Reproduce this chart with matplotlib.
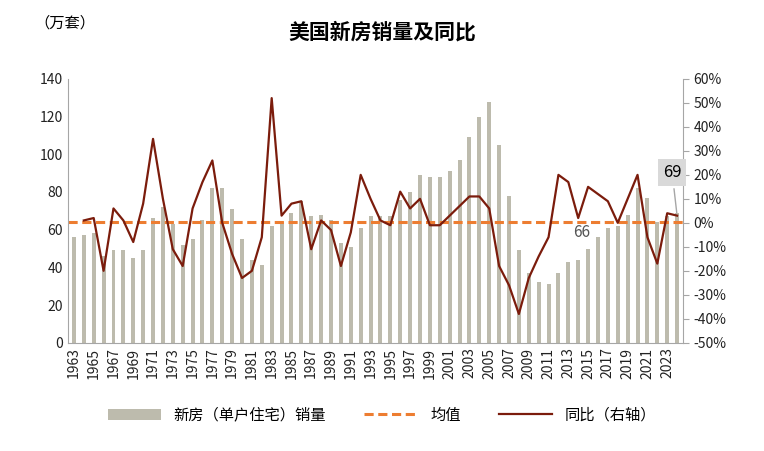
import numpy as np
import matplotlib.pyplot as plt

plt.rcParams['font.family'] = ['Noto Sans CJK SC']

years = list(range(1963, 2025))
sales = [56, 57, 58, 46, 49, 49, 45, 49, 66, 72, 63, 52, 55, 65, 82, 82, 71, 55,
         44, 41, 62, 64, 69, 75, 67, 68, 65, 53, 51, 61, 67, 67, 67, 76, 80, 89,
         88, 88, 91, 97, 109, 120, 128, 105, 78, 49, 37, 32, 31, 37, 43, 44, 50,
         56, 61, 62, 68, 82, 77, 64, 67, 69]
yoy_years = list(range(1964, 2025))
yoy = [1, 2, -20, 6, 1, -8, 8, 35, 10, -11, -18, 6, 17, 26, 0, -13, -23, -20, -6,
       52, 3, 8, 9, -11, 1, -3, -18, -4, 20, 10, 1, -1, 13, 6, 10, -1, -1, 3, 7,
       11, 11, 6, -18, -26, -38, -23, -14, -6, 20, 17, 2, 15, 12, 9, 0, 10, 20,
       -6, -17, 4, 3]
mean_val = 64

fig = plt.figure(figsize=(7.64, 4.51), dpi=100)
ax = fig.add_axes([0.089, 0.24, 0.805, 0.585])
ax2 = ax.twinx()

bars = ax.bar(years, sales, width=0.4, color='#bdbbad')
mline = ax.axhline(mean_val, color='#ed7d31', ls='--', lw=2.2, dashes=(3, 1.5))
yline, = ax2.plot(yoy_years, yoy, color='#7b1c0c', lw=1.6)

ax.set_ylim(0, 140)
ax.set_yticks(range(0, 141, 20))
ax2.set_ylim(-50, 60)
ax2.set_yticks(range(-50, 61, 10))
ax2.set_yticklabels([f'{v}%' for v in range(-50, 61, 10)])
ax.set_xlim(1962.4, 2024.6)
ax.set_xticks(range(1963, 2025, 2))
ax.set_xticklabels([str(y) for y in range(1963, 2025, 2)], rotation=90)
for a in (ax, ax2):
    a.tick_params(labelsize=10, colors='#222222', length=0)
    for s in a.spines.values():
        s.set_visible(False)
ax.spines['bottom'].set_visible(True)
ax.spines['left'].set_visible(True)
ax2.spines['right'].set_visible(True)
for s in (ax.spines['bottom'], ax.spines['left'], ax2.spines['right']):
    s.set_color('#a6a6a6')
ax2.tick_params(axis='y', length=4, color='#a6a6a6', direction='out')

ax.text(2014.3, 56, '66', fontsize=11, color='#555555', ha='center')
ax2.annotate('69', xy=(2024, 3), xytext=(2023.5, 21), fontsize=12,
             ha='center', va='center',
             bbox=dict(boxstyle='square,pad=0.3', fc='#d9d9d9', ec='none'),
             arrowprops=dict(arrowstyle='-', color='#a6a6a6', lw=1))

fig.text(0.5, 0.915, '美国新房销量及同比', fontsize=15, fontweight='bold', ha='center')
fig.text(0.085, 0.94, '（万套）', fontsize=11, ha='center')

fig.legend([bars, mline, yline], ['新房（单户住宅）销量', '均值', '同比（右轴）'],
           loc='lower center', bbox_to_anchor=(0.5, 0.03),
           ncol=3, frameon=False, fontsize=11, handlelength=3.5, columnspacing=2.5)

fig.savefig('out.png')
